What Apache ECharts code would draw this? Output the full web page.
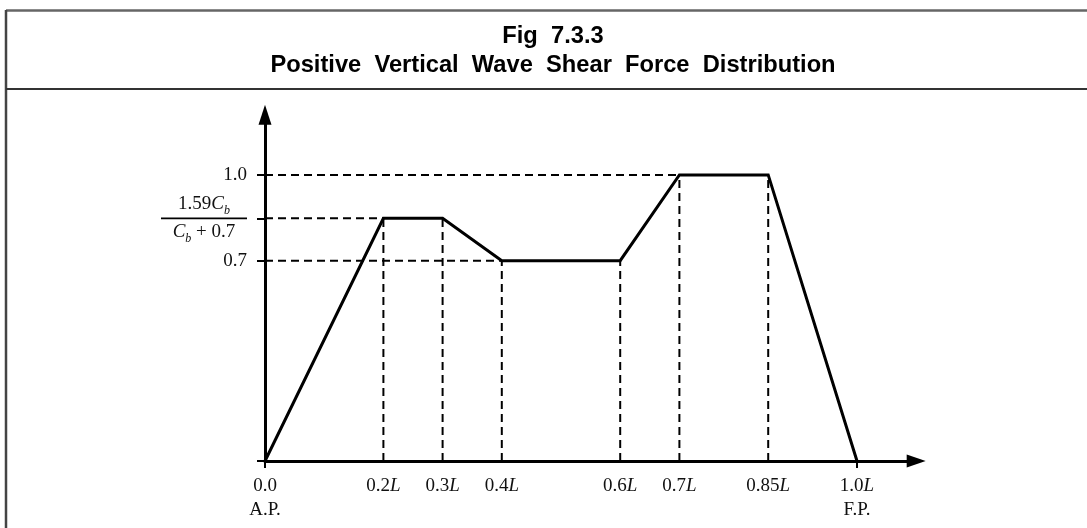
<!DOCTYPE html>
<html>
<head>
<meta charset="utf-8">
<script src="https://cdn.jsdelivr.net/npm/echarts@6/dist/echarts.min.js"></script>
<style>
  html, body { margin: 0; padding: 0; background: #fff; }
  #chart { width: 1087px; height: 528px; }
</style>
</head>
<body>
<div id="chart"></div>
<script>
// ---- data ----
const titleLine1 = 'Fig  7.3.3';
const titleLine2 = 'Positive  Vertical  Wave  Shear  Force  Distribution';

const xValues = [0, 0.2, 0.3, 0.4, 0.6, 0.7, 0.85, 1.0];
const yValues = [0, 0.848, 0.848, 0.7, 0.7, 1.0, 1.0, 0];

const xTickValues = [0, 0.2, 0.3, 0.4, 0.6, 0.7, 0.85, 1.0];
const xTickLabels = ['0.0', '0.2L', '0.3L', '0.4L', '0.6L', '0.7L', '0.85L', '1.0L'];
const xTickSubLabels = ['A.P.', '', '', '', '', '', '', 'F.P.'];
const xTickMarks = [0, 1.0];

const yTickValues = [0.7, 0.848, 1.0];
const yTickLabels = ['0.7', 'FRAC', '1.0'];
const yFracNumerator = '1.59C_b';
const yFracDenominator = 'C_b + 0.7';
const yTickMarks = [0, 0.7, 0.848, 1.0];

const verticalGuideX = [0.2, 0.3, 0.4, 0.6, 0.7, 0.85];
const horizontalGuideY = [0.848, 0.7, 1.0];
const horizontalGuideEndX = [0.2, 0.4, 0.7];

// ---- build ----
const SERIF = 'Liberation Serif';
const mainData = xValues.map((x, i) => [x, yValues[i]]);

function yAt(x) {
  const i = xValues.findIndex(v => Math.abs(v - x) < 1e-9);
  return yValues[i];
}

const guideStyle = { color: '#000', width: 2, type: [8, 5] };
const guideSeries = [];
verticalGuideX.forEach(x => {
  guideSeries.push({
    type: 'line', data: [[x, 0], [x, yAt(x)]], symbol: 'none', silent: true, z: 1,
    lineStyle: guideStyle
  });
});
horizontalGuideY.forEach((y, i) => {
  guideSeries.push({
    type: 'line', data: [[0, y], [horizontalGuideEndX[i], y]], symbol: 'none', silent: true, z: 1,
    lineStyle: guideStyle
  });
});

function mathTokens(str, cls) {
  // "C_b" -> italic C with subscript b ; capital letters italic
  let out = '';
  const re = /([A-Z])_([a-z])|([A-Z])|([^A-Z]+)/g;
  let m;
  while ((m = re.exec(str))) {
    if (m[1]) out += '{' + cls + 'i|' + m[1] + '}{' + cls + 'sub|' + m[2] + '}';
    else if (m[3]) out += '{' + cls + 'i|' + m[3] + '}';
    else out += '{' + cls + 'n|' + m[4] + '}';
  }
  return out;
}

function closeIdx(arr, v) {
  let best = 0;
  arr.forEach((a, i) => { if (Math.abs(a - v) < Math.abs(arr[best] - v)) best = i; });
  return best;
}

const baseTxt = { fontFamily: SERIF, fontSize: 19, color: '#111' };

const chart = echarts.init(document.getElementById('chart'), null, { renderer: 'canvas' });
chart.setOption({
  backgroundColor: '#fff',
  animation: false,
  title: {
    text: titleLine1,
    subtext: titleLine2,
    left: 548,
    top: 19,
    textAlign: 'center',
    itemGap: 5,
    textStyle: { fontFamily: 'Liberation Sans', fontWeight: 'bold', fontSize: 23.7, color: '#000' },
    subtextStyle: { fontFamily: 'Liberation Sans', fontWeight: 'bold', fontSize: 23.7, color: '#000' }
  },
  graphic: [
    { type: 'line', shape: { x1: 6, y1: 10.5, x2: 1087, y2: 10.5 }, style: { stroke: '#666', lineWidth: 2.5 }, silent: true },
    { type: 'line', shape: { x1: 6, y1: 10, x2: 6, y2: 528 }, style: { stroke: '#444', lineWidth: 2.5 }, silent: true },
    { type: 'line', shape: { x1: 6, y1: 89, x2: 1087, y2: 89 }, style: { stroke: '#333', lineWidth: 2 }, silent: true }
  ],
  grid: { left: 265, right: 170.8, top: 114.8, bottom: 67, containLabel: false },
  xAxis: {
    type: 'value', min: 0, max: 1.1,
    splitLine: { show: false },
    axisLine: { show: true, onZero: false, symbol: ['none', 'triangle'], symbolSize: [13, 19],
      lineStyle: { color: '#000', width: 3 } },
    axisTick: { show: true, customValues: xTickMarks, length: 7, inside: false,
      lineStyle: { color: '#000', width: 2 } },
    axisLabel: {
      show: true, customValues: xTickValues, margin: 13,
      formatter: function (v) {
        const i = closeIdx(xTickValues, v);
        let s = mathTokens(xTickLabels[i], 'x');
        if (xTickSubLabels[i]) s += '\n{xn|' + xTickSubLabels[i] + '}';
        return s;
      },
      rich: {
        xn: Object.assign({}, baseTxt, { lineHeight: 24 }),
        xi: Object.assign({}, baseTxt, { fontStyle: 'italic', lineHeight: 24 }),
        xsub: Object.assign({}, baseTxt, { fontSize: 12, lineHeight: 24 })
      }
    }
  },
  yAxis: {
    type: 'value', min: 0, max: 1.21,
    splitLine: { show: false },
    axisLine: { show: true, onZero: false, symbol: ['none', 'triangle'], symbolSize: [13, 20],
      lineStyle: { color: '#000', width: 3 } },
    axisTick: { show: true, customValues: yTickMarks, length: 8,
      lineStyle: { color: '#000', width: 2 } },
    axisLabel: {
      show: true, customValues: yTickValues, margin: 18,
      formatter: function (v) {
        const i = closeIdx(yTickValues, v);
        if (yTickLabels[i] === 'FRAC') {
          return mathTokens(yFracNumerator, 'f') + '\n{bar| }\n' + mathTokens(yFracDenominator, 'f');
        }
        return '{yn|' + yTickLabels[i] + '}';
      },
      rich: {
        yn: Object.assign({}, baseTxt),
        fn: Object.assign({}, baseTxt, { align: 'center', lineHeight: 26 }),
        fi: Object.assign({}, baseTxt, { fontStyle: 'italic', align: 'center', lineHeight: 26 }),
        fsub: Object.assign({}, baseTxt, { fontSize: 12, fontStyle: 'italic', align: 'center', lineHeight: 26, padding: [12, 0, 0, 0] }),
        bar: { width: 86, height: 1.6, lineHeight: 2, fontSize: 1, backgroundColor: '#000', align: 'center' }
      }
    }
  },
  series: guideSeries.concat([{
    type: 'line', data: mainData, symbol: 'none', silent: true, z: 5,
    lineStyle: { color: '#000', width: 3, join: 'miter' }
  }])
});
</script>
</body>
</html>
